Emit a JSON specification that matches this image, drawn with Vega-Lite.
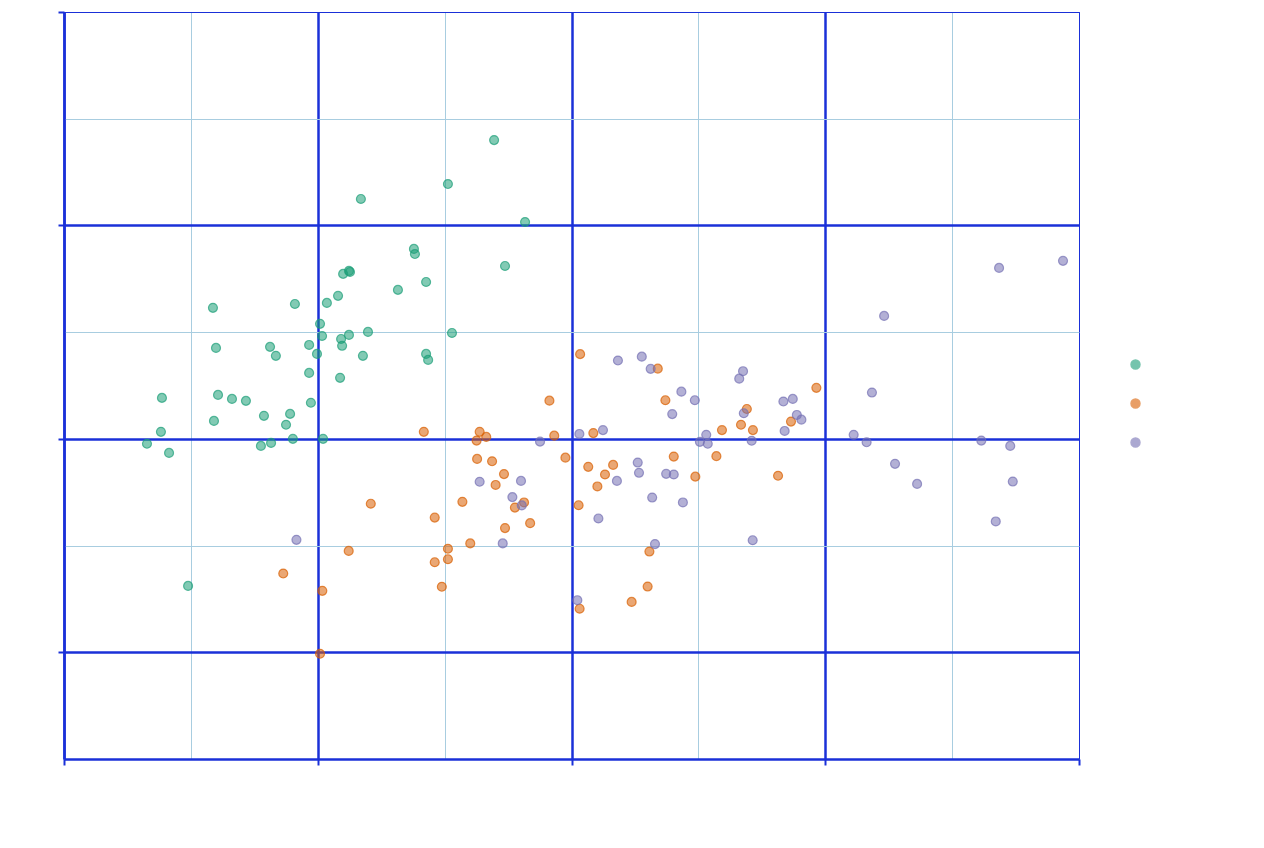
{
  "$schema": "https://vega.github.io/schema/vega-lite/v6.json",
  "width": 1015,
  "height": 747,
  "padding": {"left": 64, "top": 12, "right": 185, "bottom": 89},
  "autosize": {"type": "none"},
  "config": {
    "view": {"stroke": "#1a30d8", "strokeWidth": 1},
    "axis": {
      "labels": false,
      "title": null,
      "domainColor": "#1a30d8",
      "domainWidth": 2.5,
      "tickSize": 6,
      "tickWidth": 2,
      "tickColor": {"condition": {"test": "datum.value % 1 === 0", "value": "#1a30d8"}, "value": "transparent"},
      "gridOpacity": 1
    },
    "legend": {"labelOpacity": 0, "labelFontSize": 10, "padding": 0}
  },
  "data": {
    "values": [
      {"sepalLength": 5.695, "sepalWidth": 4.400, "species": "setosa"},
      {"sepalLength": 5.513, "sepalWidth": 4.194, "species": "setosa"},
      {"sepalLength": 5.170, "sepalWidth": 4.124, "species": "setosa"},
      {"sepalLength": 5.817, "sepalWidth": 4.016, "species": "setosa"},
      {"sepalLength": 5.379, "sepalWidth": 3.890, "species": "setosa"},
      {"sepalLength": 5.383, "sepalWidth": 3.866, "species": "setosa"},
      {"sepalLength": 5.738, "sepalWidth": 3.810, "species": "setosa"},
      {"sepalLength": 5.123, "sepalWidth": 3.787, "species": "setosa"},
      {"sepalLength": 5.127, "sepalWidth": 3.782, "species": "setosa"},
      {"sepalLength": 5.100, "sepalWidth": 3.773, "species": "setosa"},
      {"sepalLength": 5.427, "sepalWidth": 3.735, "species": "setosa"},
      {"sepalLength": 5.316, "sepalWidth": 3.698, "species": "setosa"},
      {"sepalLength": 5.080, "sepalWidth": 3.670, "species": "setosa"},
      {"sepalLength": 4.910, "sepalWidth": 3.632, "species": "setosa"},
      {"sepalLength": 5.036, "sepalWidth": 3.637, "species": "setosa"},
      {"sepalLength": 4.587, "sepalWidth": 3.614, "species": "setosa"},
      {"sepalLength": 5.009, "sepalWidth": 3.539, "species": "setosa"},
      {"sepalLength": 5.017, "sepalWidth": 3.482, "species": "setosa"},
      {"sepalLength": 5.198, "sepalWidth": 3.501, "species": "setosa"},
      {"sepalLength": 5.123, "sepalWidth": 3.487, "species": "setosa"},
      {"sepalLength": 5.092, "sepalWidth": 3.468, "species": "setosa"},
      {"sepalLength": 5.096, "sepalWidth": 3.436, "species": "setosa"},
      {"sepalLength": 5.529, "sepalWidth": 3.496, "species": "setosa"},
      {"sepalLength": 4.966, "sepalWidth": 3.440, "species": "setosa"},
      {"sepalLength": 4.997, "sepalWidth": 3.398, "species": "setosa"},
      {"sepalLength": 5.178, "sepalWidth": 3.389, "species": "setosa"},
      {"sepalLength": 5.427, "sepalWidth": 3.398, "species": "setosa"},
      {"sepalLength": 5.435, "sepalWidth": 3.370, "species": "setosa"},
      {"sepalLength": 4.599, "sepalWidth": 3.426, "species": "setosa"},
      {"sepalLength": 4.812, "sepalWidth": 3.431, "species": "setosa"},
      {"sepalLength": 4.835, "sepalWidth": 3.389, "species": "setosa"},
      {"sepalLength": 4.966, "sepalWidth": 3.309, "species": "setosa"},
      {"sepalLength": 5.088, "sepalWidth": 3.286, "species": "setosa"},
      {"sepalLength": 4.386, "sepalWidth": 3.192, "species": "setosa"},
      {"sepalLength": 4.607, "sepalWidth": 3.206, "species": "setosa"},
      {"sepalLength": 4.662, "sepalWidth": 3.187, "species": "setosa"},
      {"sepalLength": 4.717, "sepalWidth": 3.178, "species": "setosa"},
      {"sepalLength": 4.973, "sepalWidth": 3.169, "species": "setosa"},
      {"sepalLength": 4.591, "sepalWidth": 3.084, "species": "setosa"},
      {"sepalLength": 4.788, "sepalWidth": 3.108, "species": "setosa"},
      {"sepalLength": 4.891, "sepalWidth": 3.117, "species": "setosa"},
      {"sepalLength": 4.875, "sepalWidth": 3.066, "species": "setosa"},
      {"sepalLength": 4.382, "sepalWidth": 3.033, "species": "setosa"},
      {"sepalLength": 4.327, "sepalWidth": 2.977, "species": "setosa"},
      {"sepalLength": 4.414, "sepalWidth": 2.934, "species": "setosa"},
      {"sepalLength": 4.776, "sepalWidth": 2.967, "species": "setosa"},
      {"sepalLength": 4.816, "sepalWidth": 2.981, "species": "setosa"},
      {"sepalLength": 4.902, "sepalWidth": 3.000, "species": "setosa"},
      {"sepalLength": 5.021, "sepalWidth": 3.000, "species": "setosa"},
      {"sepalLength": 4.489, "sepalWidth": 2.311, "species": "setosa"},
      {"sepalLength": 5.418, "sepalWidth": 3.033, "species": "versicolor"},
      {"sepalLength": 5.638, "sepalWidth": 3.033, "species": "versicolor"},
      {"sepalLength": 5.664, "sepalWidth": 3.009, "species": "versicolor"},
      {"sepalLength": 5.626, "sepalWidth": 2.992, "species": "versicolor"},
      {"sepalLength": 5.932, "sepalWidth": 3.015, "species": "versicolor"},
      {"sepalLength": 5.628, "sepalWidth": 2.906, "species": "versicolor"},
      {"sepalLength": 5.687, "sepalWidth": 2.895, "species": "versicolor"},
      {"sepalLength": 5.734, "sepalWidth": 2.835, "species": "versicolor"},
      {"sepalLength": 5.701, "sepalWidth": 2.784, "species": "versicolor"},
      {"sepalLength": 5.570, "sepalWidth": 2.705, "species": "versicolor"},
      {"sepalLength": 5.813, "sepalWidth": 2.702, "species": "versicolor"},
      {"sepalLength": 5.777, "sepalWidth": 2.678, "species": "versicolor"},
      {"sepalLength": 5.209, "sepalWidth": 2.696, "species": "versicolor"},
      {"sepalLength": 5.461, "sepalWidth": 2.631, "species": "versicolor"},
      {"sepalLength": 5.738, "sepalWidth": 2.582, "species": "versicolor"},
      {"sepalLength": 5.837, "sepalWidth": 2.605, "species": "versicolor"},
      {"sepalLength": 5.601, "sepalWidth": 2.510, "species": "versicolor"},
      {"sepalLength": 5.513, "sepalWidth": 2.485, "species": "versicolor"},
      {"sepalLength": 5.513, "sepalWidth": 2.436, "species": "versicolor"},
      {"sepalLength": 5.461, "sepalWidth": 2.422, "species": "versicolor"},
      {"sepalLength": 5.122, "sepalWidth": 2.475, "species": "versicolor"},
      {"sepalLength": 4.864, "sepalWidth": 2.369, "species": "versicolor"},
      {"sepalLength": 5.018, "sepalWidth": 2.288, "species": "versicolor"},
      {"sepalLength": 5.489, "sepalWidth": 2.307, "species": "versicolor"},
      {"sepalLength": 5.009, "sepalWidth": 1.993, "species": "versicolor"},
      {"sepalLength": 6.034, "sepalWidth": 3.397, "species": "versicolor"},
      {"sepalLength": 6.340, "sepalWidth": 3.329, "species": "versicolor"},
      {"sepalLength": 5.913, "sepalWidth": 3.179, "species": "versicolor"},
      {"sepalLength": 6.370, "sepalWidth": 3.181, "species": "versicolor"},
      {"sepalLength": 6.691, "sepalWidth": 3.140, "species": "versicolor"},
      {"sepalLength": 6.668, "sepalWidth": 3.066, "species": "versicolor"},
      {"sepalLength": 6.715, "sepalWidth": 3.041, "species": "versicolor"},
      {"sepalLength": 6.593, "sepalWidth": 3.041, "species": "versicolor"},
      {"sepalLength": 6.086, "sepalWidth": 3.027, "species": "versicolor"},
      {"sepalLength": 5.976, "sepalWidth": 2.912, "species": "versicolor"},
      {"sepalLength": 6.403, "sepalWidth": 2.917, "species": "versicolor"},
      {"sepalLength": 6.571, "sepalWidth": 2.919, "species": "versicolor"},
      {"sepalLength": 6.066, "sepalWidth": 2.869, "species": "versicolor"},
      {"sepalLength": 6.164, "sepalWidth": 2.878, "species": "versicolor"},
      {"sepalLength": 6.132, "sepalWidth": 2.833, "species": "versicolor"},
      {"sepalLength": 6.102, "sepalWidth": 2.777, "species": "versicolor"},
      {"sepalLength": 6.488, "sepalWidth": 2.823, "species": "versicolor"},
      {"sepalLength": 6.028, "sepalWidth": 2.689, "species": "versicolor"},
      {"sepalLength": 6.965, "sepalWidth": 3.239, "species": "versicolor"},
      {"sepalLength": 6.865, "sepalWidth": 3.081, "species": "versicolor"},
      {"sepalLength": 6.814, "sepalWidth": 2.827, "species": "versicolor"},
      {"sepalLength": 6.307, "sepalWidth": 2.472, "species": "versicolor"},
      {"sepalLength": 6.300, "sepalWidth": 2.308, "species": "versicolor"},
      {"sepalLength": 6.237, "sepalWidth": 2.236, "species": "versicolor"},
      {"sepalLength": 6.032, "sepalWidth": 2.204, "species": "versicolor"},
      {"sepalLength": 5.876, "sepalWidth": 2.987, "species": "virginica"},
      {"sepalLength": 5.638, "sepalWidth": 2.799, "species": "virginica"},
      {"sepalLength": 5.801, "sepalWidth": 2.803, "species": "virginica"},
      {"sepalLength": 5.767, "sepalWidth": 2.727, "species": "virginica"},
      {"sepalLength": 5.804, "sepalWidth": 2.688, "species": "virginica"},
      {"sepalLength": 5.729, "sepalWidth": 2.510, "species": "virginica"},
      {"sepalLength": 4.916, "sepalWidth": 2.527, "species": "virginica"},
      {"sepalLength": 6.183, "sepalWidth": 3.367, "species": "virginica"},
      {"sepalLength": 6.277, "sepalWidth": 3.385, "species": "virginica"},
      {"sepalLength": 6.312, "sepalWidth": 3.328, "species": "virginica"},
      {"sepalLength": 6.676, "sepalWidth": 3.317, "species": "virginica"},
      {"sepalLength": 6.661, "sepalWidth": 3.282, "species": "virginica"},
      {"sepalLength": 6.433, "sepalWidth": 3.221, "species": "virginica"},
      {"sepalLength": 6.486, "sepalWidth": 3.181, "species": "virginica"},
      {"sepalLength": 6.397, "sepalWidth": 3.116, "species": "virginica"},
      {"sepalLength": 6.679, "sepalWidth": 3.120, "species": "virginica"},
      {"sepalLength": 6.124, "sepalWidth": 3.041, "species": "virginica"},
      {"sepalLength": 6.031, "sepalWidth": 3.023, "species": "virginica"},
      {"sepalLength": 6.531, "sepalWidth": 3.019, "species": "virginica"},
      {"sepalLength": 6.506, "sepalWidth": 2.986, "species": "virginica"},
      {"sepalLength": 6.537, "sepalWidth": 2.977, "species": "virginica"},
      {"sepalLength": 6.710, "sepalWidth": 2.991, "species": "virginica"},
      {"sepalLength": 6.261, "sepalWidth": 2.889, "species": "virginica"},
      {"sepalLength": 6.266, "sepalWidth": 2.841, "species": "virginica"},
      {"sepalLength": 6.373, "sepalWidth": 2.836, "species": "virginica"},
      {"sepalLength": 6.403, "sepalWidth": 2.833, "species": "virginica"},
      {"sepalLength": 6.179, "sepalWidth": 2.803, "species": "virginica"},
      {"sepalLength": 6.318, "sepalWidth": 2.725, "species": "virginica"},
      {"sepalLength": 6.439, "sepalWidth": 2.702, "species": "virginica"},
      {"sepalLength": 6.106, "sepalWidth": 2.627, "species": "virginica"},
      {"sepalLength": 6.714, "sepalWidth": 2.525, "species": "virginica"},
      {"sepalLength": 6.329, "sepalWidth": 2.507, "species": "virginica"},
      {"sepalLength": 6.023, "sepalWidth": 2.244, "species": "virginica"},
      {"sepalLength": 7.184, "sepalWidth": 3.217, "species": "virginica"},
      {"sepalLength": 6.835, "sepalWidth": 3.175, "species": "virginica"},
      {"sepalLength": 6.872, "sepalWidth": 3.187, "species": "virginica"},
      {"sepalLength": 6.888, "sepalWidth": 3.112, "species": "virginica"},
      {"sepalLength": 6.906, "sepalWidth": 3.090, "species": "virginica"},
      {"sepalLength": 6.840, "sepalWidth": 3.037, "species": "virginica"},
      {"sepalLength": 7.112, "sepalWidth": 3.019, "species": "virginica"},
      {"sepalLength": 7.163, "sepalWidth": 2.984, "species": "virginica"},
      {"sepalLength": 7.275, "sepalWidth": 2.883, "species": "virginica"},
      {"sepalLength": 7.362, "sepalWidth": 2.789, "species": "virginica"},
      {"sepalLength": 7.615, "sepalWidth": 2.992, "species": "virginica"},
      {"sepalLength": 7.729, "sepalWidth": 2.967, "species": "virginica"},
      {"sepalLength": 7.739, "sepalWidth": 2.800, "species": "virginica"},
      {"sepalLength": 7.672, "sepalWidth": 2.613, "species": "virginica"},
      {"sepalLength": 7.232, "sepalWidth": 3.576, "species": "virginica"},
      {"sepalLength": 7.685, "sepalWidth": 3.801, "species": "virginica"},
      {"sepalLength": 7.937, "sepalWidth": 3.834, "species": "virginica"}
    ]
  },
  "mark": {"type": "circle", "size": 80, "fillOpacity": 0.55, "strokeOpacity": 0.7, "strokeWidth": 1.2},
  "encoding": {
    "x": {
      "field": "sepalLength",
      "type": "quantitative",
      "scale": {"domain": [4, 8], "nice": false, "zero": false},
      "axis": {
        "values": [4, 4.5, 5, 5.5, 6, 6.5, 7, 7.5, 8],
        "gridColor": {"condition": {"test": "datum.value % 1 === 0", "value": "#1a30d8"}, "value": "#a8cde0"},
        "gridWidth": {"condition": {"test": "datum.value % 1 === 0 && datum.value < 8", "value": 2.5}, "value": 1}
      }
    },
    "y": {
      "field": "sepalWidth",
      "type": "quantitative",
      "scale": {"domain": [1.5, 5], "nice": false, "zero": false},
      "axis": {
        "values": [1.5, 2, 2.5, 3, 3.5, 4, 4.5, 5],
        "gridColor": {"condition": {"test": "datum.value % 1 === 0", "value": "#1a30d8"}, "value": "#a8cde0"},
        "gridWidth": {"condition": {"test": "datum.value % 1 === 0 && datum.value < 5", "value": 2.5}, "value": 1}
      }
    },
    "color": {
      "field": "species",
      "type": "nominal",
      "scale": {"range": ["#1b9e77", "#d95f02", "#7570b3"]},
      "legend": {"title": null, "orient": "none", "legendX": 1066, "legendY": 347, "rowPadding": 24, "symbolType": "circle", "symbolSize": 80, "symbolOpacity": 0.6}
    },
    "stroke": {
      "field": "species",
      "type": "nominal",
      "scale": {"range": ["#1b9e77", "#d95f02", "#7570b3"]},
      "legend": null
    }
  }
}
